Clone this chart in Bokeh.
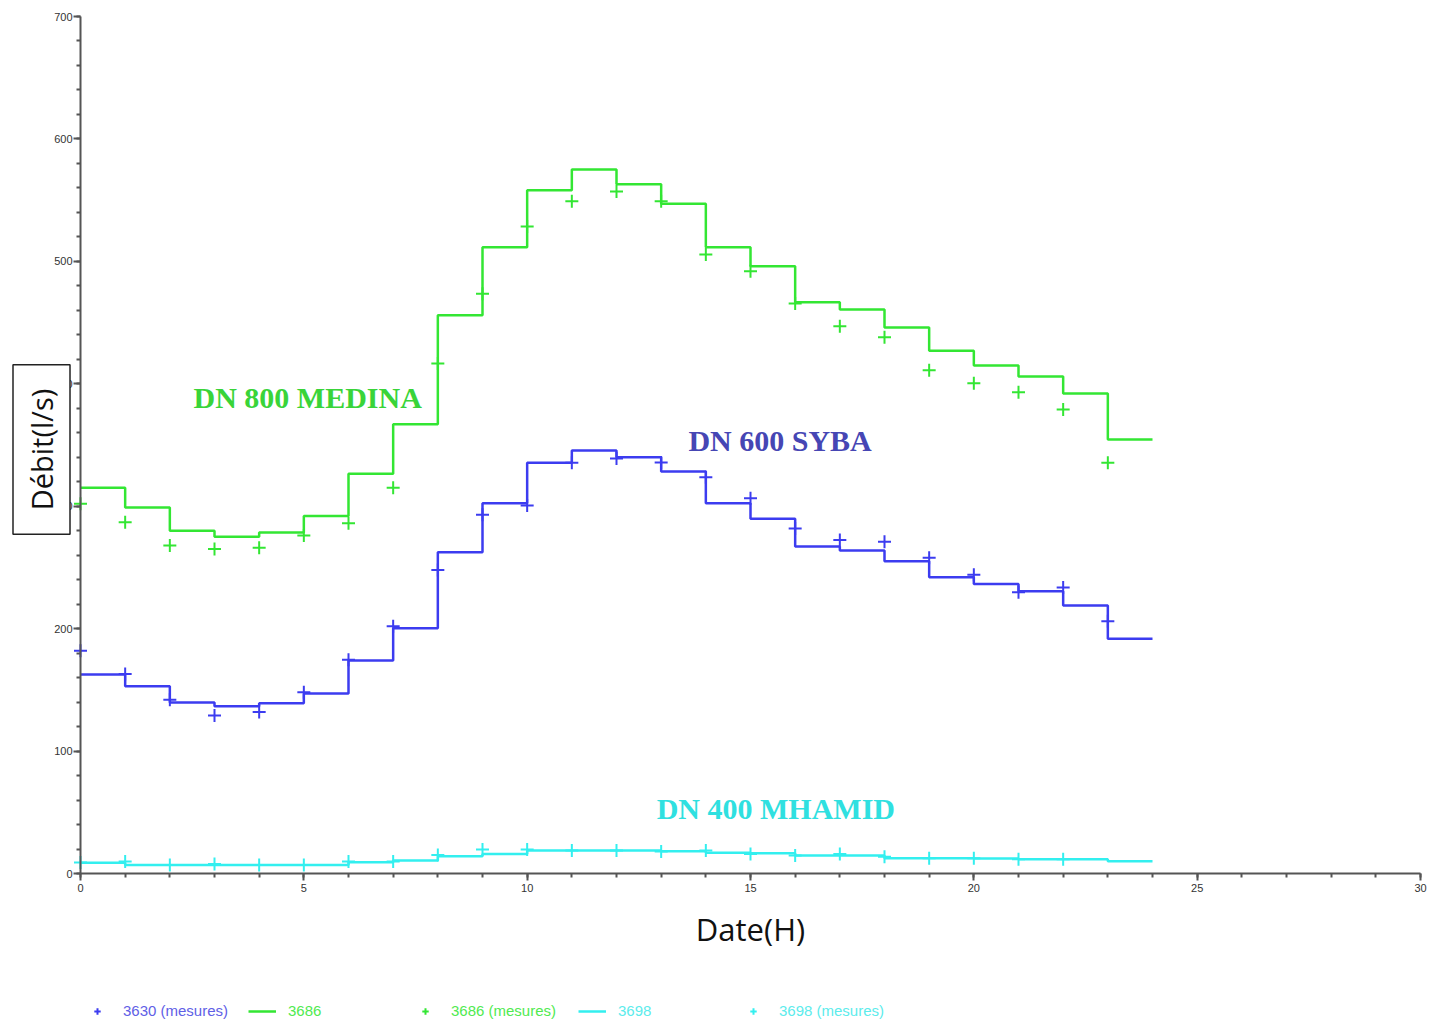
import math
from bokeh.plotting import figure
from bokeh.models import Label, Legend, LegendItem, SingleIntervalTicker, Range1d
from bokeh.embed import file_html
from bokeh.resources import INLINE

# ---- data ----
hours_step = list(range(0, 25))
green_step = [315, 299, 280, 275, 278.5, 292, 326.5, 367, 456, 511.5, 558, 575, 563, 547,
              511.5, 496, 466.7, 460.7, 446, 427, 415, 406, 392, 354.5, 354.5]
blue_step = [162.5, 153, 139.7, 136.7, 139, 147, 174, 200.4, 262.4, 302.4, 335.4, 345.5, 340,
             328.3, 302.4, 289.7, 267, 263.8, 255, 242, 236.5, 230.6, 219, 191.7, 191.7]
cyan_step = [8.7, 7, 7, 7, 7, 7, 9.2, 10.6, 14.1, 16, 18.8, 18.8, 18.8, 18.2, 17, 16.5,
             14.7, 14.7, 12.5, 12.5, 12.2, 11.6, 11.6, 10, 10]

hours_meas = list(range(0, 24))
green_meas = [302, 287, 268, 265, 266, 276, 286, 315, 416.5, 473.5, 528.5, 549, 557, 549,
              505.5, 492, 465.5, 447, 438, 411, 400.5, 393, 379, 335.5]
blue_meas = [182, 163, 142, 129, 132, 148, 174.5, 202, 248, 293, 300.6, 335.4, 339, 335.7,
             323.7, 306.5, 281.8, 272.5, 271, 258, 244, 229.8, 233.6, 206]
hours_cyan_meas = list(range(0, 23))
cyan_meas = [9, 9.7, 7, 7.8, 7, 7, 9.7, 9.7, 15.2, 19.6, 19.6, 18.8, 18.8, 18, 18.8, 16,
             14.7, 16, 13.6, 12.5, 12.5, 11.6, 11.6]

x_axis_span = (0, 30)
y_axis_span = (0, 700)
x_ticks_interval = 5
y_ticks_interval = 100

GREEN = "#33e633"
BLUE = "#3c3cf0"
CYAN = "#33efef"
AXC = "#555555"

# canvas layout (pixels): the frame fills the whole canvas, the axes are fixed at 0
W, H = 1436, 1022
PX_LEFT, PX_RIGHT, PX_TOP, PX_BOTTOM = 80, 1420, 16, 873
sx = (PX_RIGHT - PX_LEFT) / (x_axis_span[1] - x_axis_span[0])
sy = (PX_BOTTOM - PX_TOP) / (y_axis_span[1] - y_axis_span[0])
x_range = Range1d(x_axis_span[0] - PX_LEFT / sx, x_axis_span[1] + (W - PX_RIGHT) / sx)
y_range = Range1d(y_axis_span[0] - (H - PX_BOTTOM) / sy, y_axis_span[1] + PX_TOP / sy)

p = figure(width=W, height=H, output_backend="svg", toolbar_location=None,
           x_range=x_range, y_range=y_range,
           min_border=0, min_border_left=0, min_border_right=0,
           min_border_top=0, min_border_bottom=0)
p.outline_line_color = None
p.grid.visible = False
p.background_fill_color = "white"
p.border_fill_color = "white"

p.xaxis.ticker = SingleIntervalTicker(interval=x_ticks_interval, num_minor_ticks=5)
p.yaxis.ticker = SingleIntervalTicker(interval=y_ticks_interval, num_minor_ticks=5)
p.xaxis.fixed_location = 0
p.yaxis.fixed_location = 0
p.xaxis.bounds = x_axis_span
p.yaxis.bounds = y_axis_span
for ax in (p.xaxis[0], p.yaxis[0]):
    ax.axis_line_color = AXC
    ax.axis_line_width = 2
    ax.major_tick_line_color = AXC
    ax.major_tick_line_width = 2
    ax.minor_tick_line_color = AXC
    ax.minor_tick_line_width = 2
    ax.major_tick_out = 7
    ax.major_tick_in = 0
    ax.minor_tick_out = 4
    ax.minor_tick_in = 0
    ax.major_label_text_font = "Liberation Sans"
    ax.major_label_text_font_size = "11px"
    ax.major_label_text_color = "#333333"
p.yaxis.major_label_standoff = 1
p.xaxis.major_label_standoff = 3
p.xaxis.axis_label = "Date(H)"
p.xaxis.axis_label_text_font = "Open Sans"
p.xaxis.axis_label_text_font_size = "31px"
p.xaxis.axis_label_text_font_style = "normal"
p.xaxis.axis_label_text_color = "#111111"
p.xaxis.axis_label_standoff = 13

# series
r_green = p.step(hours_step, green_step, mode="after", line_color=GREEN, line_width=2.5)
r_blue = p.step(hours_step, blue_step, mode="after", line_color=BLUE, line_width=2.5)
r_cyan = p.step(hours_step, cyan_step, mode="after", line_color=CYAN, line_width=2.5)
r_gm = p.scatter(hours_meas, green_meas, marker="cross", size=13, line_color=GREEN, line_width=2)
r_bm = p.scatter(hours_meas, blue_meas, marker="cross", size=13, line_color=BLUE, line_width=2)
r_cm = p.scatter(hours_cyan_meas, cyan_meas, marker="cross", size=13, line_color=CYAN, line_width=2)

# annotations
for txt, x, y, col in [("DN 800 MEDINA", 2.53, 388.8, "#39d439"),
                       ("DN 600 SYBA", 13.61, 353.7, "#4646b4"),
                       ("DN 400 MHAMID", 12.9, 53, "#2fe0e0")]:
    p.add_layout(Label(x=x, y=y, text=txt, text_color=col, text_font="Liberation Serif",
                       text_font_style="bold", text_font_size="30px",
                       text_align="left", text_baseline="middle"))

p.add_layout(Label(x=(41 - PX_LEFT) / sx, y=(PX_BOTTOM - 449) / sy, text="Débit(l/s)",
                   angle=math.pi / 2,
                   text_align="center", text_baseline="middle", text_font="Open Sans",
                   text_font_size="29px", text_color="#111111",
                   border_line_color="#222222", border_line_width=1.5,
                   background_fill_color="white", padding=(24, 9)))

# legends (one per entry, each in its own colour)
for label, rend, col, lx in [("3630 (mesures)", r_bm, "#6060e6", 83),
                             ("3686", r_green, "#50ea50", 248),
                             ("3686 (mesures)", r_gm, "#50ea50", 411),
                             ("3698", r_cyan, "#5cecec", 578),
                             ("3698 (mesures)", r_cm, "#5cecec", 739)]:
    leg = Legend(items=[LegendItem(label=label, renderers=[rend])],
                 location=(lx, 3), orientation="horizontal",
                 border_line_color=None, background_fill_alpha=0, padding=0, margin=0,
                 glyph_width=28, glyph_height=16, label_height=16, label_standoff=12,
                 label_text_font="Liberation Sans", label_text_font_size="15px",
                 label_text_color=col)
    p.add_layout(leg)

open("out.html", "w").write(file_html(p, INLINE))
